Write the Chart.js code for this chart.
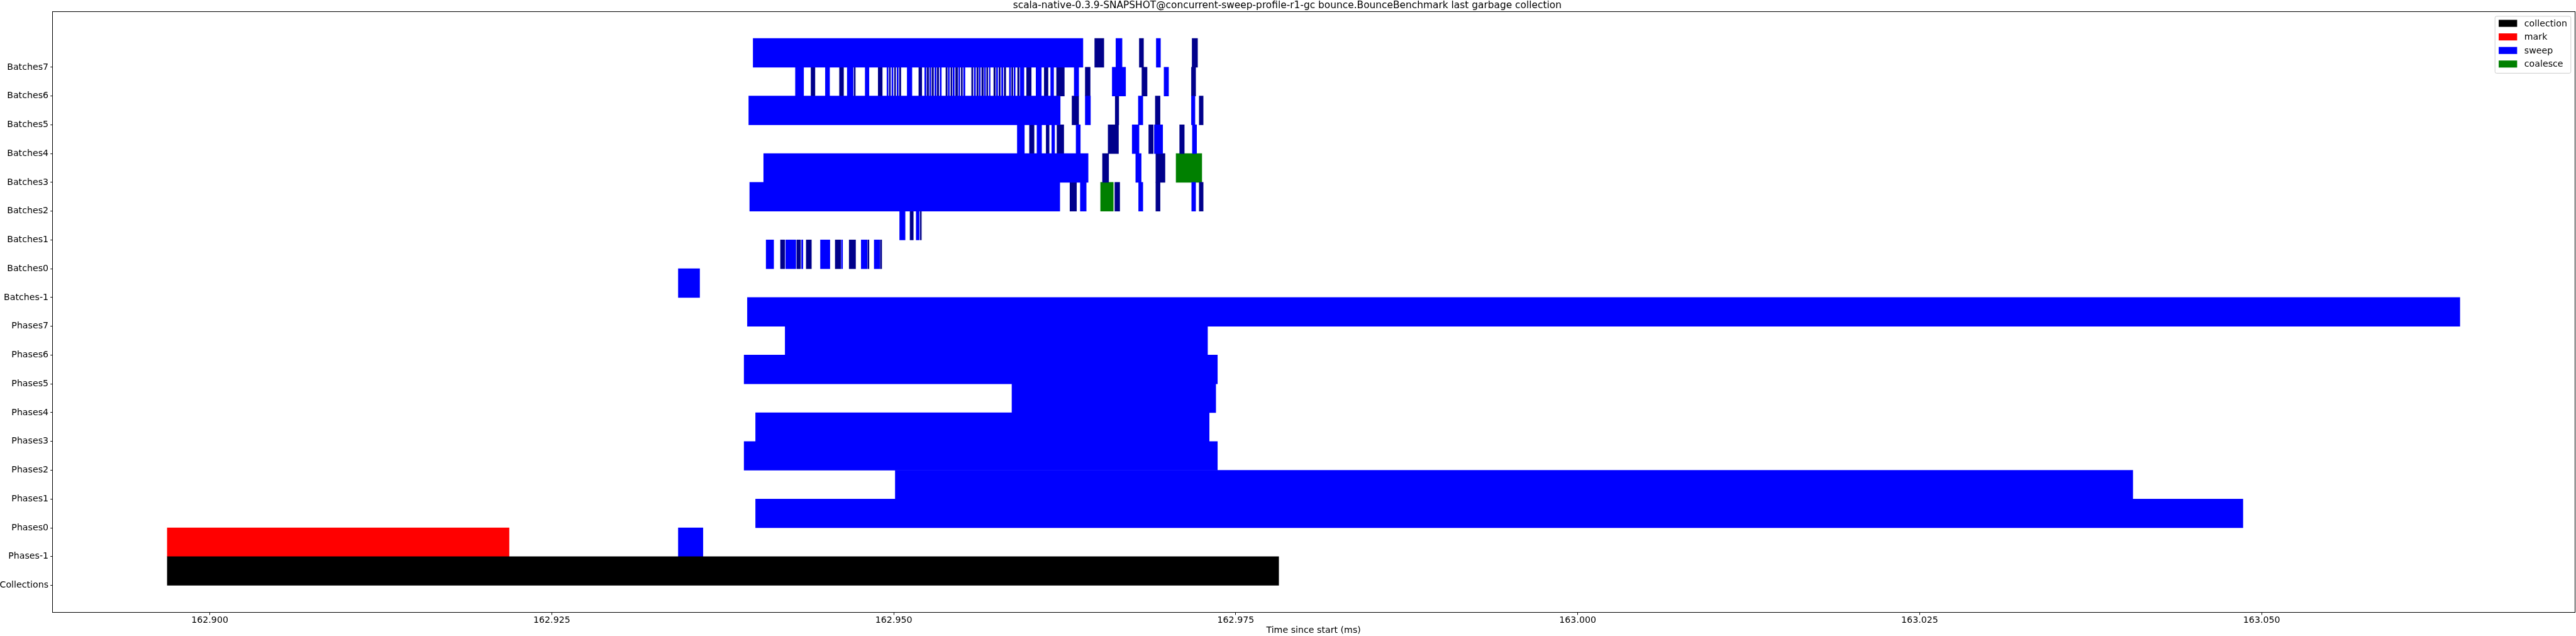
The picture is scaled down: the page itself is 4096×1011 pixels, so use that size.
<!DOCTYPE html>
<html><head><meta charset="utf-8">
<script src="https://cdn.jsdelivr.net/npm/chart.js@4/dist/chart.umd.min.js"></script>
<style>html,body{margin:0;padding:0;background:#fff;overflow:hidden}canvas{display:block}</style>
</head><body><canvas id="c" width="4096" height="1011"></canvas>
<script>
const titleText = 'scala-native-0.3.9-SNAPSHOT@concurrent-sweep-profile-r1-gc bounce.BounceBenchmark last garbage collection';
const xAxisTitle = 'Time since start (ms)';
const rowLabels = ['Collections','Phases-1','Phases0','Phases1','Phases2','Phases3','Phases4','Phases5','Phases6','Phases7',
  'Batches-1','Batches0','Batches1','Batches2','Batches3','Batches4','Batches5','Batches6','Batches7'];
const xTickValues = [162.900, 162.925, 162.950, 162.975, 163.000, 163.025, 163.050];

// [row index, start ms, end ms]
const collectionBars = [[0, 162.89689, 162.97814]];
const markBars = [[1, 162.89689, 162.92188]];
const sweepBars = [
  [1, 162.93425, 162.93605],
  [2, 162.93990, 163.04863],
  [3, 162.95011, 163.04058],
  [4, 162.93906, 162.97366],
  [5, 162.93990, 162.97306],
  [6, 162.95864, 162.97354],
  [7, 162.93906, 162.97366],
  [8, 162.94206, 162.97294],
  [9, 162.93930, 163.06449],
  [10, 162.93425, 162.93581],
  [11, 162.94067, 162.94122], [11, 162.94210, 162.94284], [11, 162.94326, 162.94336], [11, 162.94464, 162.94533],
  [11, 162.94617, 162.94626], [11, 162.94762, 162.94805], [11, 162.94857, 162.94898],
  [12, 162.95043, 162.95083], [12, 162.95164, 162.95186],
  [13, 162.93947, 162.96214], [13, 162.96364, 162.96407], [13, 162.96790, 162.96821], [13, 162.97178, 162.97207],
  [14, 162.94049, 162.96421], [14, 162.96769, 162.96809],
  [15, 162.95903, 162.95955], [15, 162.96047, 162.96081], [15, 162.96155, 162.96176], [15, 162.96333, 162.96364],
  [15, 162.96743, 162.96793], [15, 162.96905, 162.96966], [15, 162.97183, 162.97214],
  [16, 162.93940, 162.96217], [16, 162.96400, 162.96438], [16, 162.96788, 162.96821], [16, 162.97176, 162.97202],
  [17, 162.94281, 162.94341], [17, 162.94500, 162.94531], [17, 162.94660, 162.94703], [17, 162.94791, 162.94819],
  [17, 162.94950, 162.94959], [17, 162.94986, 162.94995], [17, 162.95024, 162.95033], [17, 162.95098, 162.95133],
  [17, 162.95226, 162.95236], [17, 162.95262, 162.95271], [17, 162.95300, 162.95310], [17, 162.95338, 162.95348],
  [17, 162.95398, 162.95407], [17, 162.95433, 162.95443], [17, 162.95474, 162.95483], [17, 162.95510, 162.95521],
  [17, 162.95588, 162.95598], [17, 162.95624, 162.95633], [17, 162.95662, 162.95671], [17, 162.95698, 162.95705],
  [17, 162.95750, 162.95760], [17, 162.95788, 162.95798], [17, 162.95845, 162.95855], [17, 162.95879, 162.95888],
  [17, 162.95924, 162.95952], [17, 162.96040, 162.96079], [17, 162.96147, 162.96169], [17, 162.96319, 162.96352],
  [17, 162.96597, 162.96695], [17, 162.96976, 162.97009],
  [18, 162.93972, 162.96383], [18, 162.96624, 162.96669], [18, 162.96919, 162.96950]
];
const sweepAltBars = [
  [11, 162.94172, 162.94203], [11, 162.94291, 162.94319], [11, 162.94360, 162.94398], [11, 162.94572, 162.94612],
  [11, 162.94674, 162.94721], [11, 162.94810, 162.94819], [11, 162.94902, 162.94912],
  [12, 162.95119, 162.95143], [12, 162.95193, 162.95202],
  [13, 162.96288, 162.96336], [13, 162.96616, 162.96652], [13, 162.96916, 162.96947], [13, 162.97233, 162.97262],
  [14, 162.96526, 162.96571], [14, 162.96916, 162.96983],
  [15, 162.95992, 162.96026], [15, 162.96114, 162.96136], [15, 162.96193, 162.96243], [15, 162.96567, 162.96643],
  [15, 162.96864, 162.96897], [15, 162.97090, 162.97124],
  [16, 162.96303, 162.96352], [16, 162.96619, 162.96645], [16, 162.96912, 162.96947], [16, 162.97233, 162.97262],
  [17, 162.94395, 162.94424], [17, 162.94603, 162.94633], [17, 162.94710, 162.94719], [17, 162.94886, 162.94916],
  [17, 162.94967, 162.94976], [17, 162.95005, 162.95014], [17, 162.95041, 162.95052], [17, 162.95183, 162.95205],
  [17, 162.95243, 162.95255], [17, 162.95279, 162.95291], [17, 162.95317, 162.95329], [17, 162.95381, 162.95391],
  [17, 162.95417, 162.95426], [17, 162.95452, 162.95467], [17, 162.95493, 162.95502], [17, 162.95569, 162.95579],
  [17, 162.95607, 162.95617], [17, 162.95643, 162.95655], [17, 162.95679, 162.95688], [17, 162.95731, 162.95743],
  [17, 162.95769, 162.95779], [17, 162.95807, 162.95819], [17, 162.95862, 162.95871], [17, 162.95905, 162.95917],
  [17, 162.95971, 162.96005], [17, 162.96100, 162.96128], [17, 162.96190, 162.96247], [17, 162.96400, 162.96436],
  [17, 162.96814, 162.96852], [17, 162.97176, 162.97207],
  [18, 162.96469, 162.96536], [18, 162.96795, 162.96826], [18, 162.97181, 162.97221]
];
const coalesceBars = [[13, 162.96512, 162.96605], [14, 162.97064, 162.97252]];

const FONT = 'DejaVu Sans';
Chart.defaults.font.family = FONT;
Chart.defaults.color = '#000';

const toPoints = bars => bars.map(([r, s, e]) => ({x: [s, e], y: r + 0.5}));
const allBars = [].concat(collectionBars, markBars, sweepBars, sweepAltBars, coalesceBars);
const dataMin = Math.min(...allBars.map(b => b[1]));
const dataMax = Math.max(...allBars.map(b => b[2]));
const xPad = (dataMax - dataMin) * 0.05;
const yPad = rowLabels.length * 0.05;

const legendPlugin = {
  id: 'boxLegend',
  afterDraw(chart) {
    const ctx = chart.ctx, a = chart.chartArea;
    const items = chart.data.datasets.filter(d => d.inLegend);
    const w = 120.6, h = 90.5;
    const bx = a.right - 6.3 - w, by = a.top + 7.8;
    ctx.save();
    ctx.beginPath();
    ctx.roundRect(bx + 0.5, by + 0.5, w, h, 2.6);
    ctx.fillStyle = 'rgba(255,255,255,0.8)';
    ctx.fill();
    ctx.strokeStyle = '#cccccc';
    ctx.lineWidth = 1;
    ctx.stroke();
    ctx.font = '14.2px "' + FONT + '"';
    ctx.textBaseline = 'middle';
    ctx.textAlign = 'left';
    items.forEach((d, i) => {
      const cy = by + 11.7 + i * 21.56;
      ctx.fillStyle = d.backgroundColor;
      ctx.fillRect(bx + 6.4, cy - 5.6, 29.3, 11.2);
      ctx.fillStyle = '#000';
      ctx.fillText(d.label, bx + 47.1, cy + 0.8);
    });
    ctx.restore();
  }
};
const framePlugin = {
  id: 'frame',
  afterDatasetsDraw(chart) {
    const ctx = chart.ctx, a = chart.chartArea;
    ctx.save();
    ctx.strokeStyle = '#000';
    ctx.lineWidth = 1;
    ctx.strokeRect(Math.round(a.left) - 0.5, Math.round(a.top) + 0.5, Math.round(a.right - a.left) + 1, Math.round(a.bottom - a.top) - 1);
    ctx.restore();
  }
};

new Chart(document.getElementById('c'), {
  type: 'bar',
  data: {
    datasets: [
      {label: 'collection', data: toPoints(collectionBars), backgroundColor: '#000000', inLegend: true},
      {label: 'mark', data: toPoints(markBars), backgroundColor: '#ff0000', inLegend: true},
      {label: 'sweep', data: toPoints(sweepBars), backgroundColor: '#0000ff', inLegend: true},
      {label: 'sweep', data: toPoints(sweepAltBars), backgroundColor: '#00008b', inLegend: false},
      {label: 'coalesce', data: toPoints(coalesceBars), backgroundColor: '#008000', inLegend: true}
    ]
  },
  options: {
    indexAxis: 'y',
    responsive: false,
    animation: false,
    devicePixelRatio: 1,
    layout: {padding: {left: 0, top: 0, right: 2.4, bottom: 0}},
    datasets: {bar: {grouped: false, barPercentage: 1, categoryPercentage: 1, borderWidth: 0}},
    plugins: {
      legend: {display: false},
      tooltip: {enabled: false},
      title: {display: true, text: titleText, color: '#000',
        font: {family: FONT, size: 15.4, weight: 'normal', lineHeight: 17.6 / 15.4}, padding: {top: 0, bottom: 0}}
    },
    scales: {
      x: {
        type: 'linear', position: 'bottom', offset: false,
        min: dataMin - xPad, max: dataMax + xPad,
        afterBuildTicks: s => { s.ticks = xTickValues.map(v => ({value: v})); },
        afterFit: s => { s.height = 37; },
        ticks: {callback: v => v.toFixed(3), autoSkip: false, maxRotation: 0, padding: 0, color: '#000', font: {size: 14.2}},
        grid: {offset: false, drawOnChartArea: false, drawTicks: true, tickLength: 3.5, color: '#000', lineWidth: 1},
        border: {display: false},
        title: {display: true, text: xAxisTitle, color: '#000', font: {size: 14.2}, padding: {top: 0, bottom: 0}}
      },
      y: {
        type: 'linear', position: 'left', offset: false,
        min: -yPad, max: rowLabels.length + yPad,
        afterBuildTicks: s => { s.ticks = rowLabels.map((_, i) => ({value: i})); },
        afterFit: s => { s.width = 83.7; },
        ticks: {callback: v => rowLabels[v] ?? '', autoSkip: false, padding: 3.1, color: '#000', font: {size: 14.2}},
        grid: {offset: false, drawOnChartArea: false, drawTicks: true, tickLength: 3.5, color: '#000', lineWidth: 1},
        border: {display: false}
      }
    }
  },
  plugins: [framePlugin, legendPlugin]
});
</script></body></html>
